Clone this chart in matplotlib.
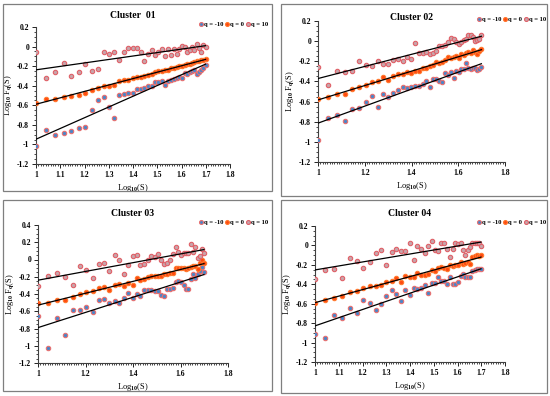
import numpy as np
import matplotlib
matplotlib.use('Agg')
import matplotlib.pyplot as plt
from matplotlib.patches import Rectangle
from matplotlib.ticker import MultipleLocator, FuncFormatter

plt.rcParams['font.family'] = ['Liberation Serif', 'DejaVu Serif']
plt.rcParams['font.weight'] = 'bold'
plt.rcParams['mathtext.fontset'] = 'custom'
plt.rcParams['mathtext.rm'] = 'Liberation Serif:bold'
plt.rcParams['mathtext.it'] = 'Liberation Serif:bold'
plt.rcParams['mathtext.bf'] = 'Liberation Serif:bold'

# window sizes S (x axis is log10 of these)
scales = [10, 11, 12, 13, 14, 15, 16, 17, 18, 19, 20, 21, 22, 23, 24, 25, 26, 27, 28, 29, 30,
          31, 32, 33, 34, 35, 36, 37, 38, 39, 40, 41, 42, 43, 44, 45, 46, 47, 48, 49, 50]

titles = ['Cluster  01', 'Cluster 02', 'Cluster 03', 'Cluster 04']
labels = ['q = -10', 'q = 0', 'q = 10']

# Cluster 01
c1_qm10 = [-1.02, -0.85, -0.90, -0.88, -0.86, -0.83, -0.82, -0.65, -0.55, -0.52, -0.62,
           -0.73, -0.50, -0.48, -0.47, -0.47, -0.43, -0.43, -0.42, -0.40, -0.40, -0.36,
           -0.36, -0.35, -0.39, -0.35, -0.34, -0.33, -0.32, -0.31, -0.32, -0.27, -0.28,
           -0.26, -0.25, -0.24, -0.28, -0.26, -0.24, -0.22, -0.19]
c1_q0 = [-0.58, -0.54, -0.54, -0.52, -0.51, -0.49, -0.47, -0.44, -0.42, -0.40, -0.40,
         -0.39, -0.35, -0.34, -0.34, -0.32, -0.31, -0.31, -0.30, -0.29, -0.28, -0.26,
         -0.25, -0.25, -0.24, -0.24, -0.22, -0.22, -0.21, -0.20, -0.20, -0.19, -0.18,
         -0.18, -0.17, -0.16, -0.15, -0.15, -0.14, -0.14, -0.13]
c1_q10 = [-0.06, -0.32, -0.26, -0.17, -0.30, -0.26, -0.18, -0.25, -0.23, -0.06, -0.08,
          -0.06, -0.14, -0.06, -0.01, -0.01, -0.01, -0.06, -0.15, -0.08, -0.03, -0.09,
          -0.06, -0.02, -0.10, -0.02, -0.09, -0.02, -0.08, -0.02, 0.01, 0.00, -0.06,
          -0.04, 0.00, -0.03, 0.03, -0.01, -0.06, 0.02, 0.00]

# Cluster 02
c2_qm10 = [-0.98, -0.76, -0.73, -0.79, -0.67, -0.66, -0.60, -0.54, -0.65, -0.52, -0.55,
           -0.51, -0.49, -0.46, -0.47, -0.46, -0.45, -0.45, -0.43, -0.40, -0.46, -0.38,
           -0.38, -0.40, -0.41, -0.32, -0.34, -0.31, -0.37, -0.30, -0.31, -0.28, -0.28,
           -0.22, -0.27, -0.28, -0.27, -0.27, -0.29, -0.28, -0.26]
c2_q0 = [-0.57, -0.55, -0.52, -0.52, -0.48, -0.46, -0.44, -0.41, -0.40, -0.36, -0.39,
         -0.35, -0.33, -0.33, -0.31, -0.32, -0.30, -0.30, -0.27, -0.27, -0.25, -0.24,
         -0.21, -0.22, -0.21, -0.19, -0.16, -0.17, -0.16, -0.15, -0.17, -0.13, -0.14,
         -0.12, -0.11, -0.12, -0.09, -0.11, -0.13, -0.10, -0.08]
c2_q10 = [-0.26, -0.44, -0.30, -0.31, -0.30, -0.20, -0.24, -0.25, -0.20, -0.23, -0.23,
          -0.19, -0.18, -0.20, -0.16, -0.18, -0.02, -0.12, -0.12, -0.11, -0.13, -0.12,
          -0.10, -0.05, -0.05, -0.04, -0.01, 0.03, 0.02, -0.01, -0.03, -0.01, 0.01,
          0.02, 0.06, 0.06, 0.04, 0.00, 0.01, 0.02, 0.06]

# Cluster 03
c3_qm10 = [-0.66, -1.03, -0.68, -0.87, -0.59, -0.58, -0.55, -0.61, -0.47, -0.46, -0.50,
           -0.48, -0.50, -0.45, -0.39, -0.45, -0.40, -0.42, -0.35, -0.35, -0.35, -0.36,
           -0.36, -0.41, -0.42, -0.34, -0.34, -0.33, -0.26, -0.25, -0.26, -0.30, -0.34,
           -0.34, -0.23, -0.17, -0.22, -0.17, -0.13, -0.09, -0.14]
c3_q0 = [-0.51, -0.50, -0.47, -0.47, -0.44, -0.40, -0.38, -0.37, -0.33, -0.32, -0.35,
         -0.29, -0.28, -0.31, -0.27, -0.30, -0.22, -0.24, -0.23, -0.20, -0.19, -0.19,
         -0.19, -0.19, -0.17, -0.17, -0.16, -0.16, -0.10, -0.10, -0.10, -0.10, -0.11,
         -0.10, -0.09, -0.07, -0.08, -0.11, -0.04, -0.01, -0.04]
c3_q10 = [-0.31, -0.19, -0.16, -0.20, -0.30, -0.08, -0.12, -0.21, -0.05, -0.04, -0.13,
          0.05, -0.01, -0.17, -0.06, 0.04, 0.05, -0.06, -0.05, -0.01, 0.04, 0.03,
          0.06, 0.00, -0.05, -0.04, 0.00, 0.06, 0.15, 0.09, 0.05, 0.07, 0.08,
          0.07, 0.18, 0.09, 0.14, 0.02, 0.04, 0.12, 0.08]

# Cluster 04
c4_qm10 = [-0.91, -0.95, -0.72, -0.75, -0.64, -0.70, -0.56, -0.59, -0.66, -0.60, -0.52,
           -0.46, -0.50, -0.57, -0.46, -0.51, -0.44, -0.45, -0.44, -0.41, -0.49, -0.39,
           -0.39, -0.33, -0.37, -0.37, -0.40, -0.32, -0.40, -0.40, -0.38, -0.31, -0.29,
           -0.32, -0.33, -0.32, -0.26, -0.25, -0.24, -0.24, -0.24]
c4_q0 = [-0.59, -0.56, -0.54, -0.52, -0.48, -0.47, -0.44, -0.42, -0.42, -0.41, -0.38,
         -0.37, -0.34, -0.38, -0.31, -0.33, -0.32, -0.28, -0.30, -0.30, -0.29, -0.25,
         -0.26, -0.23, -0.22, -0.23, -0.24, -0.20, -0.21, -0.20, -0.20, -0.17, -0.19,
         -0.18, -0.17, -0.19, -0.12, -0.11, -0.10, -0.11, -0.10]
c4_q10 = [-0.35, -0.25, -0.24, -0.34, -0.13, -0.16, -0.23, -0.17, -0.08, -0.05, -0.20,
          -0.07, -0.04, -0.06, -0.06, 0.02, -0.15, -0.01, -0.04, -0.08, -0.01, 0.05,
          -0.05, -0.06, 0.02, 0.03, -0.04, -0.12, -0.04, 0.02, 0.01, 0.02, -0.05,
          -0.10, -0.05, -0.02, 0.03, 0.03, 0.02, 0.02, -0.01]

clusters = [(c1_qm10, c1_q0, c1_q10), (c2_qm10, c2_q0, c2_q10),
            (c3_qm10, c3_q0, c3_q10), (c4_qm10, c4_q0, c4_q10)]

face = ['#4a86c8', '#ff4a10', '#c8a4aa']
edge = ['#e87070', '#ff7a30', '#e06068']

# axes boxes in pixels: left, right, top, bottom
px_boxes = [(36, 230, 27, 164), (318, 505, 21, 162), (38, 228, 225, 363), (315, 505, 226, 362)]
ylims = [(-1.2, 0.2), (-1.2, 0.2), (-1.2, 0.4), (-1.2, 0.2)]
xsteps = [0.1, 0.2, 0.2, 0.1]
title_y = [15, 17, 213, 213]
leg_xy = [(198, 24), (476, 19), (198, 222), (476, 222)]
frames = [(3, 272, 4, 191), (281, 547, 4, 196), (3, 272, 200, 391), (281, 547, 200, 393)]

W, H = 550, 396
fig = plt.figure(figsize=(5.5, 3.96), dpi=100)

for (l, r, t, b) in frames:
    fig.patches.append(Rectangle((l / W, 1 - b / H), (r - l) / W, (b - t) / H,
                                 transform=fig.transFigure, fill=False,
                                 edgecolor='#7f7f7f', linewidth=0.9))

x = np.log10(scales)
fmt = FuncFormatter(lambda v, p: '{:g}'.format(round(v, 2)))

for k in range(4):
    l, r, t, b = px_boxes[k]
    ax = fig.add_axes([l / W, 1 - b / H, (r - l) / W, (b - t) / H])
    for j in range(3):
        y = np.array(clusters[k][j])
        ax.scatter(x, y, s=10, c=face[j], edgecolors=edge[j], linewidths=0.8,
                   label=labels[j], zorder=3)
        m, c0 = np.polyfit(x, y, 1)
        ax.plot([x[0], x[-1]], [m * x[0] + c0, m * x[-1] + c0], color='black',
                linewidth=0.9, zorder=4)
    ax.set_xlim(1, 1.8)
    ax.set_ylim(*ylims[k])
    ax.xaxis.set_major_locator(MultipleLocator(xsteps[k]))
    ax.xaxis.set_minor_locator(MultipleLocator(0.01))
    ax.yaxis.set_major_locator(MultipleLocator(0.2))
    ax.yaxis.set_minor_locator(MultipleLocator(0.05))
    ax.xaxis.set_major_formatter(fmt)
    ax.yaxis.set_major_formatter(fmt)
    ax.spines['top'].set_visible(False)
    ax.spines['right'].set_visible(False)
    for s in ['left', 'bottom']:
        ax.spines[s].set_color('#404040')
        ax.spines[s].set_linewidth(0.8)
    ax.tick_params(which='major', direction='out', length=3, width=0.6,
                   labelsize=5.5, pad=2, colors='black')
    ax.tick_params(which='minor', direction='out', length=1.5, width=0.5)
    fig.text((l + r) / 2 / W, 1 - title_y[k] / H, titles[k], fontsize=7,
             fontweight='bold', ha='center', va='center')
    ax.set_xlabel('Log$_{10}$(S)', fontsize=6, labelpad=2)
    ax.set_ylabel('Log$_{10}$ F$_\\mathrm{q}$(S)', fontsize=6, labelpad=2)
    lx, ly = leg_xy[k]
    ax.legend(loc='center left', bbox_to_anchor=(lx / W, 1 - ly / H),
              bbox_transform=fig.transFigure, ncol=3, frameon=False,
              fontsize=4.8, handletextpad=0.0, columnspacing=0.1, borderpad=0,
              borderaxespad=0, handlelength=0.9, markerscale=0.9)

fig.savefig('out.png', dpi=100)
